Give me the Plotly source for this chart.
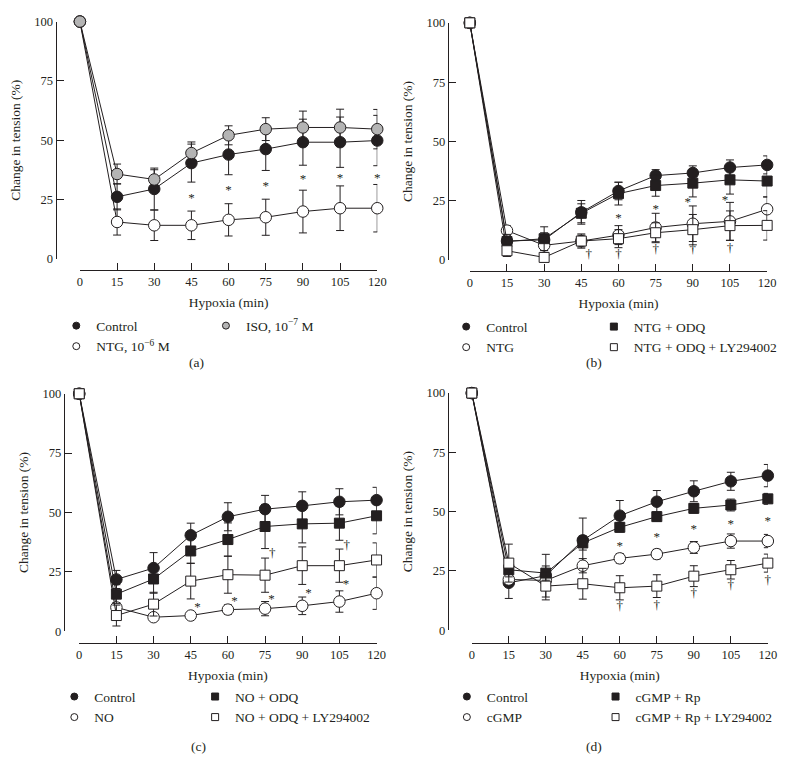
import plotly.graph_objects as go

# ---------------- data ----------------
time = [0, 15, 30, 45, 60, 75, 90, 105, 120]

# panel (a)
a_control = [100, 26.2, 29.5, 40.4, 44.0, 46.3, 49.2, 49.2, 49.9]
a_control_err = [0, 5.5, 8.8, 8.0, 8.5, 9.0, 9.7, 10.6, 10.6]
a_ntg = [100, 15.6, 14.2, 14.2, 16.5, 17.6, 20.0, 21.4, 21.4]
a_ntg_err = [0, 5.5, 6.4, 6.0, 6.8, 7.6, 9.0, 9.4, 10.0]
a_iso = [100, 35.8, 33.5, 44.6, 52.1, 54.7, 55.4, 55.4, 54.7]
a_iso_err = [0, 4.2, 4.1, 4.7, 4.0, 4.8, 6.9, 7.7, 8.3]
a_star_x = [45, 60, 75, 90, 105, 120]
a_star_y = [26.2, 29.6, 31.4, 34.5, 34.7, 34.9]

# panel (b)
b_control = [100, 8.0, 8.5, 20.1, 29.1, 35.6, 36.7, 39.0, 40.1]
b_control_err = [0, 2.0, 3.0, 5.0, 3.7, 2.5, 3.0, 3.2, 3.8]
b_ntg = [100, 12.4, 6.2, 8.0, 10.5, 13.7, 15.3, 16.3, 21.4]
b_ntg_err = [0, 2.0, 3.0, 3.0, 4.0, 6.0, 7.5, 8.0, 5.2]
b_odq = [100, 7.8, 9.0, 19.7, 28.0, 31.4, 32.4, 33.8, 33.3]
b_odq_err = [0, 3.0, 5.0, 4.0, 4.8, 4.5, 5.8, 6.0, 6.7]
b_ly = [100, 3.9, 1.1, 8.0, 9.0, 11.5, 12.8, 14.5, 14.6]
b_ly_err = [0, 2.4, 1.0, 2.5, 3.8, 4.2, 6.4, 6.2, 6.2]
b_star_x = [60, 75, 88, 103]
b_star_y = [18.6, 22.2, 25.2, 25.9]
b_dag_x = [48, 60, 75, 90, 105]
b_dag_y = [2.1, 2.1, 4.3, 4.3, 4.8]

# panel (c)
c_control = [100, 21.8, 26.6, 40.4, 48.2, 51.4, 52.8, 54.5, 55.2]
c_control_err = [0, 3.8, 6.5, 5.1, 5.9, 5.8, 5.9, 5.5, 5.4]
c_no = [100, 10.0, 5.9, 6.6, 9.1, 9.5, 10.7, 12.5, 16.0]
c_no_err = [0, 2.0, 1.0, 1.0, 2.0, 3.0, 3.7, 4.5, 6.8]
c_odq = [100, 15.6, 22.0, 33.8, 38.6, 44.1, 45.2, 45.5, 48.6]
c_odq_err = [0, 4.0, 6.0, 5.2, 7.0, 9.3, 8.0, 7.2, 7.6]
c_ly = [100, 6.6, 11.4, 21.1, 23.8, 23.6, 27.6, 27.6, 30.0]
c_ly_err = [0, 4.4, 5.0, 7.5, 7.8, 7.2, 7.9, 7.0, 7.2]
c_star_x = [47.7, 62.7, 77.6, 92.5, 107.7, 122.6]
c_star_y = [10.7, 13.5, 14.2, 16.9, 20.4, 23.4]
c_dag_x = [77.9, 108, 122.6]
c_dag_y = [32.8, 36.2, 39.7]

# panel (d)
d_control = [100, 20.0, 23.0, 37.9, 48.3, 54.2, 58.6, 62.8, 65.2]
d_control_err = [0, 6.6, 9.0, 9.4, 6.4, 4.7, 4.4, 3.8, 4.7]
d_cgmp = [100, 21.4, 21.0, 27.2, 30.3, 32.1, 34.9, 37.6, 37.6]
d_cgmp_err = [0, 2.0, 2.0, 3.0, 2.0, 2.0, 2.5, 3.0, 2.8]
d_rp = [100, 25.5, 24.1, 36.8, 43.4, 47.9, 51.4, 52.8, 55.4]
d_rp_err = [0, 3.0, 3.0, 3.0, 2.0, 2.0, 2.0, 2.5, 2.3]
d_ly = [100, 28.3, 18.6, 19.6, 17.9, 18.6, 22.8, 25.5, 28.3]
d_ly_err = [0, 8.0, 5.8, 6.5, 5.1, 4.8, 4.4, 3.9, 3.8]
d_star_x = [60, 75, 90, 105, 120]
d_star_y = [36.3, 40.0, 43.4, 45.5, 46.9]
d_dag_x = [60, 75, 90, 105, 120]
d_dag_y = [9.7, 10.4, 15.2, 18.6, 20.7]

y_ticks = [0, 25, 50, 75, 100]
x_title = "Hypoxia (min)"
y_title = "Change in tension (%)"

# ---------------- styling ----------------
FONT = "Liberation Serif"
INK = "#231f20"
GREY = "#b4b4b4"
PAGE_PAD = 8            # default body margin of the html page
W, H = 794 - 2 * PAGE_PAD, 762 - 2 * PAGE_PAD

STY = {
    "fc": dict(symbol="circle", color=INK, size=11.5),
    "oc": dict(symbol="circle", color="white", size=11.5),
    "gc": dict(symbol="circle", color=GREY, size=11.5),
    "fs": dict(symbol="square", color=INK, size=10),
    "os": dict(symbol="square", color="white", size=10),
}


def px2x(p):
    return (p - PAGE_PAD) / W


def px2y(p):
    return (H - (p - PAGE_PAD)) / H


# panel geometry in screen pixels: x0px,x120px,y0px,y100px, yline_x, xline_y
panels = [
    dict(ax="", geo=(78, 380, 256.7, 14.7, 53.3, 268.3),
         series=[("Control", a_control, a_control_err, "fc", 1, 1),
                 ("NTG, 10<sup>−6</sup> M", a_ntg, a_ntg_err, "oc", 1, 2),
                 ("ISO, 10<sup>−7</sup> M", a_iso, a_iso_err, "gc", 2, 1)],
         stars=(a_star_x, a_star_y), dags=None, label="(a)",
         leg=(94, 246, 309), lab=(196, 362)),
    dict(ax="2", geo=(474, 776, 257.7, 16, 451.7, 269.3),
         series=[("Control", b_control, b_control_err, "fc", 1, 1),
                 ("NTG", b_ntg, b_ntg_err, "oc", 1, 2),
                 ("NTG + ODQ", b_odq, b_odq_err, "fs", 2, 1),
                 ("NTG + ODQ + LY294002", b_ly, b_ly_err, "os", 2, 2)],
         stars=(b_star_x, b_star_y), dags=(b_dag_x, b_dag_y), label="(b)",
         leg=(490, 640, 310), lab=(600, 362)),
    dict(ax="3", geo=(77.3, 379.3, 636, 394, 61.7, 648.3),
         series=[("Control", c_control, c_control_err, "fc", 1, 1),
                 ("NO", c_no, c_no_err, "oc", 1, 2),
                 ("NO + ODQ", c_odq, c_odq_err, "fs", 2, 1),
                 ("NO + ODQ + LY294002", c_ly, c_ly_err, "os", 2, 2)],
         stars=(c_star_x, c_star_y), dags=(c_dag_x, c_dag_y), label="(c)",
         leg=(92, 235, 687), lab=(198, 753)),
    dict(ax="4", geo=(476, 776.7, 635, 393.3, 451.7, 648.3),
         series=[("Control", d_control, d_control_err, "fc", 1, 1),
                 ("cGMP", d_cgmp, d_cgmp_err, "oc", 1, 2),
                 ("cGMP + Rp", d_rp, d_rp_err, "fs", 2, 1),
                 ("cGMP + Rp + LY294002", d_ly, d_ly_err, "os", 2, 2)],
         stars=(d_star_x, d_star_y), dags=(d_dag_x, d_dag_y), label="(d)",
         leg=(490.7, 641.7, 687), lab=(600, 753)),
]

fig = go.Figure()
layout = dict(
    width=W, height=H, margin=dict(l=0, r=0, t=0, b=0), autosize=False,
    paper_bgcolor="white", plot_bgcolor="rgba(0,0,0,0)",
    font=dict(family=FONT, size=13, color=INK),
    annotations=[], showlegend=True,
)

legend_idx = 0
for p in panels:
    xa, ya = "x" + p["ax"], "y" + p["ax"]
    x0, x1, y0, y1, yl, xl = p["geo"]
    axis_common = dict(showgrid=False, zeroline=False, showline=True, linecolor=INK,
                       linewidth=1, ticks="inside", ticklen=7, tickcolor=INK, tickwidth=1,
                       tickfont=dict(family=FONT, size=12.5, color=INK), anchor="free",
                       fixedrange=True)
    layout["xaxis" + p["ax"]] = dict(axis_common, domain=[px2x(x0), px2x(x1)], range=[0, 120],
                                     tickvals=time, position=px2y(xl),
                                     title=dict(text=x_title, standoff=9,
                                                font=dict(family=FONT, size=13.5, color=INK)))
    layout["yaxis" + p["ax"]] = dict(axis_common, domain=[px2y(y0), px2y(y1)], range=[0, 100],
                                     tickvals=y_ticks, position=px2x(yl),
                                     title=dict(text=y_title, standoff=9,
                                                font=dict(family=FONT, size=13.5, color=INK)))
    legnames = []
    for col in (1, 2):
        legend_idx += 1
        lname = "legend" if legend_idx == 1 else "legend%d" % legend_idx
        legnames.append(lname)
        tx = p["leg"][col - 1]
        layout[lname] = dict(x=px2x(tx - 40), y=px2y(p["leg"][2]), xanchor="left", yanchor="top",
                             bgcolor="rgba(0,0,0,0)", borderwidth=0, itemwidth=30,
                             tracegroupgap=0, font=dict(family=FONT, size=13.5, color=INK),
                             itemclick=False, itemdoubleclick=False)
    for name, vals, errs, sty, col, row in p["series"]:
        s = STY[sty]
        fig.add_trace(go.Scatter(
            x=time, y=vals, xaxis=xa, yaxis=ya, mode="lines+markers", name=name,
            line=dict(color=INK, width=1),
            marker=dict(symbol=s["symbol"], size=s["size"], color=s["color"],
                        line=dict(color=INK, width=1)),
            error_y=dict(type="data", array=errs, visible=True, color=INK, thickness=1, width=4),
            cliponaxis=False, showlegend=False, hoverinfo="skip"))
    for name, vals, errs, sty, col, row in sorted(p["series"], key=lambda t: (t[4], t[5])):
        s = STY[sty]
        fig.add_trace(go.Scatter(
            x=[None], y=[None], xaxis=xa, yaxis=ya, mode="markers", name=name,
            legend=legnames[col - 1], legendrank=row,
            marker=dict(symbol=s["symbol"], size=7, color=s["color"],
                        line=dict(color=INK, width=1)),
            showlegend=True, hoverinfo="skip"))
    sx, sy = p["stars"]
    fig.add_trace(go.Scatter(x=sx, y=[v - 1 for v in sy], xaxis=xa, yaxis=ya, mode="text",
                             text=["*"] * len(sx), textposition="middle center",
                             textfont=dict(family=FONT, size=13, color=INK),
                             cliponaxis=False, showlegend=False, hoverinfo="skip"))
    if p["dags"]:
        dx, dy = p["dags"]
        fig.add_trace(go.Scatter(x=dx, y=dy, xaxis=xa, yaxis=ya, mode="text",
                                 text=["†"] * len(dx), textposition="middle center",
                                 textfont=dict(family=FONT, size=13, color=INK),
                                 cliponaxis=False, showlegend=False, hoverinfo="skip"))
    layout["annotations"].append(dict(text=p["label"], x=px2x(p["lab"][0]), y=px2y(p["lab"][1]),
                                      xref="paper", yref="paper", showarrow=False,
                                      xanchor="center", yanchor="middle",
                                      font=dict(family=FONT, size=13.5, color=INK)))

fig.update_layout(**layout)
fig.write_html("out.html", config={"displayModeBar": False})
